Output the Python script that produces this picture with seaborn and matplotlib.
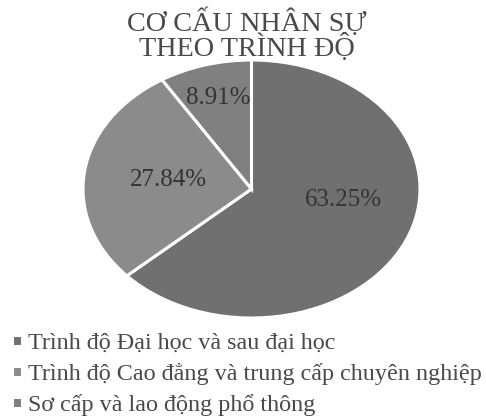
import matplotlib
matplotlib.use('Agg')
import matplotlib.pyplot as plt
import seaborn as sns

categories = ['Trình độ Đại học và sau đại học',
              'Trình độ Cao đẳng và trung cấp chuyên nghiệp',
              'Sơ cấp và lao động phổ thông']
shares = [63.25, 27.84, 8.91]
colors = ['#707070', '#8b8b8b', '#808080']
title = 'CƠ CẤU NHÂN SỰ\nTHEO TRÌNH ĐỘ'

sns.set_theme(style='white')
plt.rcParams['font.family'] = ['Liberation Serif', 'DejaVu Serif']

W, H = 486, 417
fig = plt.figure(figsize=(W / 100, H / 100), dpi=100)
# pie hinh elip giong anh goc
ax = fig.add_axes([83 / W, (H - 318) / H, 337 / W, 258 / H])

wedges, texts = ax.pie(shares, colors=colors, startangle=90, counterclock=False,
                       radius=1, frame=False,
                       wedgeprops={'edgecolor': 'white', 'linewidth': 2.2})
ax.set_aspect('auto')
ax.set_xlim(-1, 1)
ax.set_ylim(-1, 1)

# vi tri nhan phan tram (theo pixel tren anh)
label_px = [(343, 200), (168, 180), (218, 98)]
for s, (px, py) in zip(shares, label_px):
    fig.text(px / W, 1 - py / H, '{:.2f}%'.format(s), ha='center', va='center',
             fontsize=18, color='#333333')

fig.text(247 / W, 1 - 35 / H, title, ha='center', va='center', fontsize=20.3,
         color='#4a4a4a', linespacing=0.88)

fig.legend(wedges, categories, loc='upper left', bbox_to_anchor=(12 / W, 1 - 333 / H),
           frameon=False, fontsize=17.4, handlelength=0.42, handleheight=0.32,
           handletextpad=0.25, labelspacing=0.38, labelcolor='#4a4a4a',
           borderpad=0, borderaxespad=0)

fig.savefig('out.png', dpi=100)
